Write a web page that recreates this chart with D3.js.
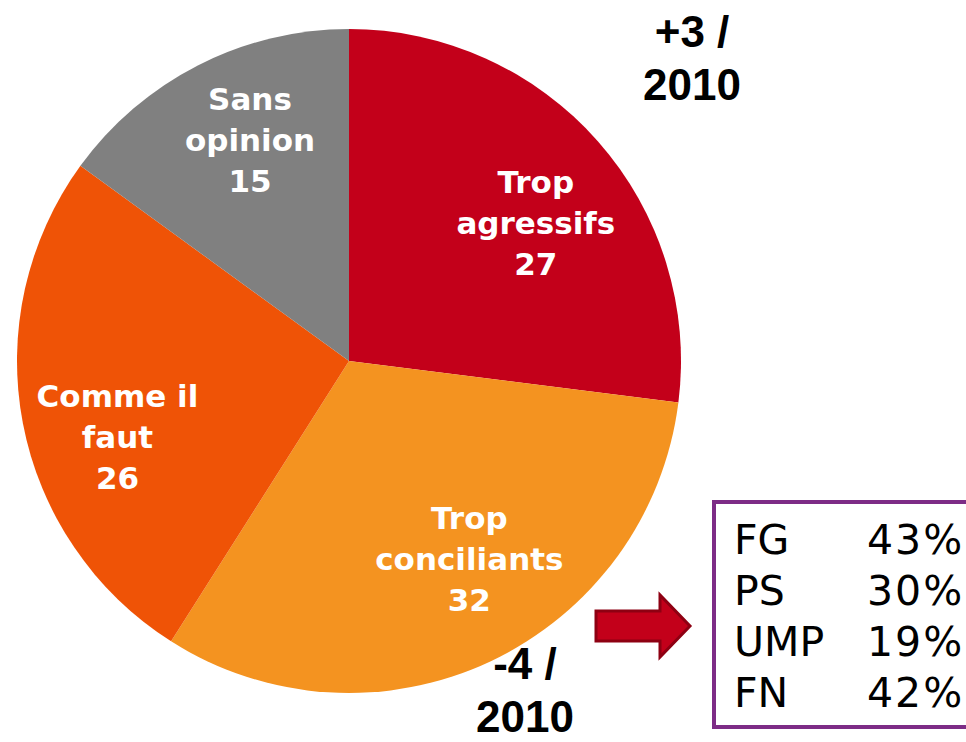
<!DOCTYPE html>
<html>
<head>
<meta charset="utf-8">
<script src="https://cdn.jsdelivr.net/npm/d3@7"></script>
<style>
  body { margin: 0; background: #fff; }
  svg { display: block; }
</style>
</head>
<body>
<div id="viz"></div>
<script>
const width = 966;
const height = 742;

// Slices, clockwise from 12 o'clock
const categories = ['Trop agressifs', 'Trop conciliants', 'Comme il faut', 'Sans opinion'];
const labelLines = [['Trop', 'agressifs'], ['Trop', 'conciliants'], ['Comme il', 'faut'], ['Sans', 'opinion']];
const values = [27, 32, 26, 15];
const colors = ['#C3001A', '#F49320', '#EF5306', '#808080'];

// Evolution vs 2010
const changes = ['+3 /', '-4 /'];
const changeYear = '2010';

// Breakdown box for "Trop conciliants"
const parties = ['FG', 'PS', 'UMP', 'FN'];
const partyShares = ['43%', '30%', '19%', '42%'];

const cx = 349, cy = 361, radius = 332;

const svg = d3.select('#viz')
  .append('svg')
    .attr('width', width)
    .attr('height', height)
    .attr('viewBox', [0, 0, width, height]);

const pie = d3.pie()
  .sort(null)
  .value(d => d.value);

const data = categories.map((c, i) => ({ category: c, lines: labelLines[i], value: values[i], color: colors[i] }));
const arcs = pie(data);

const arc = d3.arc()
  .innerRadius(0)
  .outerRadius(radius);

const labelArc = d3.arc()
  .innerRadius(radius * 0.71)
  .outerRadius(radius * 0.71);

const pieG = svg.append('g')
  .attr('transform', `translate(${cx},${cy})`);

pieG.selectAll('path')
  .data(arcs)
  .join('path')
    .attr('d', arc)
    .attr('fill', d => d.data.color);

// small nudges so the labels sit where they do in the original
const nudge = { 'Trop agressifs': [10, 18], 'Trop conciliants': [20, -15], 'Comme il faut': [0, 32], 'Sans opinion': [8, -11] };

const labels = pieG.selectAll('text.slice-label')
  .data(arcs)
  .join('text')
    .attr('class', 'slice-label')
    .attr('text-anchor', 'middle')
    .style('font-family', '"DejaVu Sans", Verdana, sans-serif')
    .style('font-weight', 'bold')
    .style('font-size', '31px')
    .attr('fill', '#fff')
    .attr('transform', d => {
      const [x, y] = labelArc.centroid(d);
      const n = nudge[d.data.category];
      return `translate(${x + n[0]},${y + n[1]})`;
    });

labels.selectAll('tspan')
  .data(d => [...d.data.lines, d.data.value])
  .join('tspan')
    .attr('x', 0)
    .attr('y', (d, i) => (i - 1) * 41 + 11)
    .text(d => d);

// Change annotations
const annot = [
  { lines: [changes[0], changeYear], x: 692, y: 47 },
  { lines: [changes[1], changeYear], x: 525, y: 679 }
];
svg.selectAll('text.change')
  .data(annot)
  .join('text')
    .attr('class', 'change')
    .attr('text-anchor', 'middle')
    .style('font-family', '"Liberation Sans", Arial, sans-serif')
    .style('font-weight', 'bold')
    .style('font-size', '44px')
    .attr('fill', '#000')
  .selectAll('tspan')
  .data(d => d.lines.map((l, i) => ({ text: l, x: d.x, y: d.y + i * 53 })))
  .join('tspan')
    .attr('x', d => d.x)
    .attr('y', d => d.y)
    .text(d => d.text);

// Arrow pointing to the breakdown box
const arrow = d3.path();
arrow.moveTo(596, 611);
arrow.lineTo(660, 611);
arrow.lineTo(660, 595);
arrow.lineTo(690, 626);
arrow.lineTo(660, 657);
arrow.lineTo(660, 641);
arrow.lineTo(596, 641);
arrow.closePath();
svg.append('path')
  .attr('d', arrow.toString())
  .attr('fill', '#C3001A')
  .attr('stroke', '#8E0012')
  .attr('stroke-width', 3)
  .attr('stroke-linejoin', 'miter');

// Breakdown box
svg.append('rect')
  .attr('x', 714)
  .attr('y', 502)
  .attr('width', 270)
  .attr('height', 225)
  .attr('fill', '#fff')
  .attr('stroke', '#7D2C86')
  .attr('stroke-width', 4);

const rowY = d3.scalePoint()
  .domain(parties)
  .range([554, 707]);

const rows = svg.append('g')
  .style('font-family', '"DejaVu Sans", Verdana, sans-serif')
  .style('font-size', '41px')
  .attr('fill', '#000');

rows.selectAll('text.party')
  .data(parties)
  .join('text')
    .attr('class', 'party')
    .attr('x', 734)
    .attr('y', d => rowY(d))
    .text(d => d);

rows.selectAll('text.share')
  .data(parties.map((p, i) => ({ party: p, share: partyShares[i] })))
  .join('text')
    .attr('class', 'share')
    .attr('x', 867)
    .attr('y', d => rowY(d.party))
    .style('letter-spacing', '2px')
    .text(d => d.share);
</script>
</body>
</html>
